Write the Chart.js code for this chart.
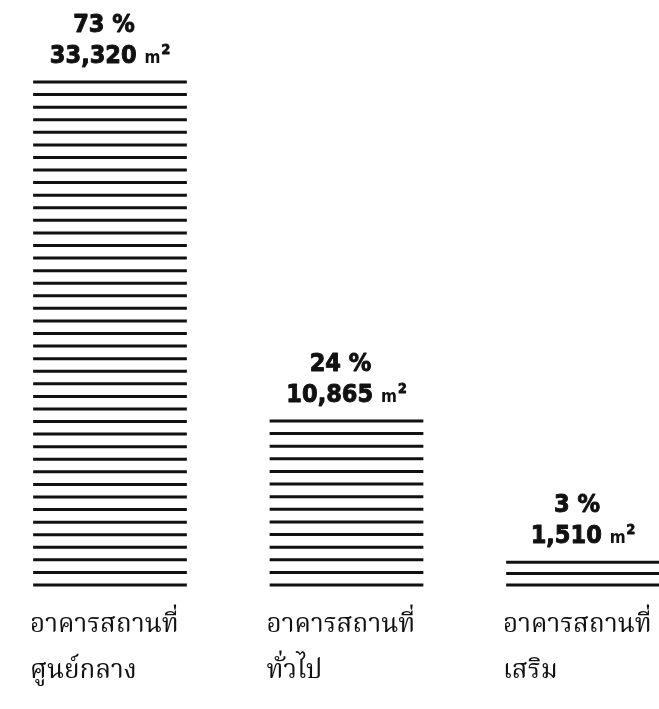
<!DOCTYPE html>
<html>
<head>
<meta charset="utf-8">
<script src="https://cdn.jsdelivr.net/npm/chart.js@4.4.1/dist/chart.umd.min.js"></script>
<style>
  html, body { margin: 0; padding: 0; background: #fff; overflow: hidden; }
  #wrap { width: 659px; height: 709px; position: relative; }
</style>
</head>
<body>
<div id="wrap"><canvas id="areaChart"></canvas></div>
<script>
// Building groups and their floor areas (m2)
const categories = [
    ['อาคารสถานที่', 'ศูนย์กลาง'],
    ['อาคารสถานที่', 'ทั่วไป'],
    ['อาคารสถานที่', 'เสริม']
];
const areas = [33320, 10865, 1510];
const percents = [73, 24, 3];

const INK = '#111';
const NUM_FONT = '"DejaVu Sans Condensed", "Liberation Sans Narrow", "DejaVu Sans", sans-serif';
const THAI_FONT = '"Noto Serif Thai", "Noto Sans Thai", "Norasi", "Kinnari", "Loma", "Garuda", serif';

// Bars are drawn as stacks of horizontal rules, like the printed figure
const stripePlugin = {
    id: 'stripes',
    afterDatasetsDraw(chart) {
        const ctx = chart.ctx;
        const meta = chart.getDatasetMeta(0);
        ctx.save();
        ctx.strokeStyle = INK;
        ctx.lineWidth = 3;
        meta.data.forEach(bar => {
            const p = bar.getProps(['x', 'y', 'base', 'width'], true);
            const h = p.base - p.y;
            const n = Math.max(1, Math.round(h / 12.55));
            const step = h / n;
            for (let k = 0; k <= n; k++) {
                const ly = p.base - k * step;
                ctx.beginPath();
                ctx.moveTo(p.x - p.width / 2, ly);
                ctx.lineTo(p.x + p.width / 2, ly);
                ctx.stroke();
            }
        });
        ctx.restore();
    }
};

// fill + thin stroke so the numbers look as heavy as the print
function heavyText(ctx, str, x, y) {
    ctx.fillText(str, x, y);
    ctx.strokeText(str, x, y);
}

// Percent and area text above each bar
const valuePlugin = {
    id: 'values',
    afterDatasetsDraw(chart) {
        const ctx = chart.ctx;
        const meta = chart.getDatasetMeta(0);
        ctx.save();
        ctx.fillStyle = INK;
        ctx.strokeStyle = INK;
        ctx.lineWidth = 0.9;
        ctx.lineJoin = 'round';
        ctx.textBaseline = 'alphabetic';
        meta.data.forEach((bar, i) => {
            const p = bar.getProps(['x', 'y'], true);
            const areaY = p.y - 19;
            const pctY = areaY - 31;

            ctx.font = 'bold 25px ' + NUM_FONT;
            ctx.textAlign = 'center';
            heavyText(ctx, percents[i] + ' %', p.x - 6, pctY);

            // "33,320 m²" built from pieces so the unit is smaller
            const num = areas[i].toLocaleString('en-US');
            ctx.font = 'bold 25px ' + NUM_FONT;
            const wNum = ctx.measureText(num + ' ').width;
            ctx.font = 'bold 17px ' + NUM_FONT;
            const wM = ctx.measureText('m').width;
            ctx.font = 'bold 14px ' + NUM_FONT;
            const wSup = ctx.measureText('2').width;
            let x0 = p.x - (wNum + wM + wSup + 1) / 2;
            ctx.textAlign = 'left';
            ctx.font = 'bold 25px ' + NUM_FONT;
            heavyText(ctx, num + ' ', x0, areaY);
            x0 += wNum;
            ctx.font = 'bold 17px ' + NUM_FONT;
            ctx.fillText('m', x0, areaY);
            x0 += wM + 1;
            ctx.font = 'bold 14px ' + NUM_FONT;
            heavyText(ctx, '2', x0, areaY - 9);
        });
        ctx.restore();
    }
};

const ctx = document.getElementById('areaChart').getContext('2d');
const chart = new Chart(ctx, {
    type: 'bar',
    data: {
        labels: categories,
        datasets: [{
            data: areas,
            backgroundColor: 'rgba(0,0,0,0)',
            borderWidth: 0,
            barPercentage: 0.65,
            categoryPercentage: 1
        }]
    },
    options: {
        responsive: true,
        maintainAspectRatio: false,
        animation: false,
        layout: { padding: { top: 82, left: 110, right: 76, bottom: 0 } },
        plugins: {
            legend: { display: false },
            tooltip: { enabled: false }
        },
        scales: {
            x: {
                offset: false,
                grid: { display: false },
                border: { display: false },
                ticks: {
                    align: 'start',
                    labelOffset: -80,
                    padding: 12,
                    color: INK,
                    maxRotation: 0,
                    autoSkip: false,
                    font: { family: THAI_FONT, size: 26, lineHeight: '46px' }
                },
                afterFit(scale) {
                    scale.height = 124;
                    scale.paddingLeft = 0;
                    scale.paddingRight = 0;
                }
            },
            y: {
                display: false,
                min: 0,
                max: Math.max(...areas)
            }
        }
    },
    plugins: [stripePlugin, valuePlugin]
});
</script>
</body>
</html>
